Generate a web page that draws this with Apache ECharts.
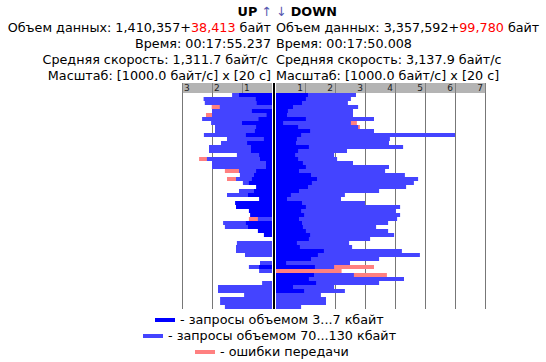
<!DOCTYPE html>
<html><head><meta charset="utf-8">
<script src="https://cdn.jsdelivr.net/npm/echarts@6/dist/echarts.min.js"></script>
<style>html,body{margin:0;padding:0;background:#fff}#c{width:546px;height:362px}</style>
</head><body><div id="c"></div>
<script>
// time slots (20 s each), top to bottom
const slots = ['1','2','3','4','5','6','7','8','9','10','11','12','13','14','15','16','17','18','19','20',
 '21','22','23','24','25','26','27','28','29','30','31','32','33','34','35','36','37','38','39','40',
 '41','42','43','44','45','46','47','48','49','50','51','52','53','54'];
// UP, in 1000 byte/s
const upSmall = [1.1,0.54,0.51,0,0.67,0.18,0.45,1.0,0.53,0.57,0.87,0.27,0.83,0.7,0.7,0.43,0.4,0.2,0.2,0.53,
 0.6,0.67,0.77,0.53,0.6,0.8,0.43,1.23,1.2,0.77,0.73,0,0.87,0.8,0.47,0.27,0,0,0,0,
 0,0,0,0.43,0,0,0,0,0,0,0,0,0,0];
const upLarge = [1.33,2.28,2.24,1.74,2.0,2.0,2.33,2.03,1.9,1.9,2.27,1.5,1.7,2.1,2.1,1.17,2.17,2.0,2.0,1.1,
 1.07,1.2,0.97,0,1.1,1.5,0,0,0,0,0,0.47,1.63,1.57,0,0,0,1.17,1.2,1.2,
 0.9,0,0.4,0.77,0.43,0,0,0.33,1.8,1.8,0.93,1.73,1.73,1.57];
const upErr = [0,0,0,2.01,0,2.2,0,0,0,0,0,0,0,0,0,0,2.43,0,0,1.57,
 0,1.5,0,0,0,0,0,0,0,0,0,0.77,0,0,0,0,0,0,0,0,
 0,0,0,0,0,0,0,0,0,0,0,0,0,0];
// DOWN, in 1000 byte/s
const downSmall = [1.1,1.03,0.9,0.6,0.43,0.4,1.03,0.27,0.77,1.17,0.87,0.73,0.7,1.13,0.77,0.67,0.77,0.93,1.03,0.8,
 1.2,1.4,1.23,1.1,0.8,0.53,0.4,0.9,1.03,0.87,0.97,0.8,0.9,0.93,1.03,1.17,1.13,0.73,0.83,1.63,
 1.43,1.2,0.37,1.33,0,1.3,1.13,1.37,0.6,0.97,0,0,0,0];
const downLarge = [2.7,2.53,2.43,2.77,2.6,2.6,3.3,2.53,2.77,3.3,6.0,3.83,3.8,4.27,2.4,1.97,2.07,2.6,3.8,3.67,
 4.33,4.77,4.63,4.37,3.47,2.33,2.2,3.0,4.17,4.03,4.17,4.07,3.77,3.37,3.77,3.97,3.17,2.47,2.57,4.23,
 4.83,3.47,2.5,1.97,0,2.63,4.3,3.47,1.97,2.33,1.53,1.7,1.7,0.87];
const downErr = [0,0,0,0,0,0,0,2.73,2.83,0,0,0,0,0,0,0,0,0,0,0,
 0,0,0,0,0,0,0,0,0,0,0,0,0,0,0,0,0,0,0,0,
 0,0,0,3.3,2.22,3.73,0,0,0,0,0,0,0,0];
const upTicks = [1,2,3];
const downTicks = [1,2,3,4,5,6,7];

const FONT = '"DejaVu Sans", Verdana, sans-serif';
const FS = '12.75px ';
const C_SMALL = '#0000ff', C_LARGE = '#4444ff', C_ERR = '#ff8080';

const chart = echarts.init(document.getElementById('c'), null, {renderer:'svg'});

function xAx(gi, max, ticks, inverse, align) {
  return {
    gridIndex: gi, type: 'value', min: 0, max: max, interval: 1, inverse: inverse, position: 'top',
    axisLine: {show: false},
    axisTick: {show: true, length: 10, customValues: ticks, lineStyle: {color: '#808080', width: 1}},
    axisLabel: {show: true, customValues: ticks, margin: 1, fontSize: 9, fontFamily: FONT, color: '#222',
      align: align, padding: align === 'left' ? [0,0,0,2] : [0,2,0,0]},
    splitLine: {show: true, showMinLine: false, lineStyle: {color: '#777', width: 1}}
  };
}
function yAx(gi) {
  return {gridIndex: gi, type: 'category', data: slots, inverse: true,
    axisLine: {show: false}, axisTick: {show: false}, axisLabel: {show: false}, splitLine: {show: false}};
}
function bar(name, data, color, gi) {
  return {type: 'bar', name: name, data: data, xAxisIndex: gi, yAxisIndex: gi,
    barGap: '-100%', barCategoryGap: '0%', itemStyle: {color: color}, silent: true};
}
function txt(x, y, align, text, rich, bold) {
  return {type: 'text', x: x, y: y, z: 50, style: {text: text, align: align, verticalAlign: 'middle',
    font: (bold ? 'bold ' : '') + FS + FONT, fill: '#000', rich: rich}};
}
const richR = {
  n: {fill: '#000', color: '#000', font: FS + FONT},
  r: {fill: '#ff0000', color: '#ff0000', font: FS + FONT},
  b: {fill: '#000', color: '#000', font: 'bold ' + FS + FONT},
  a: {fill: '#5a5ab0', color: '#5a5ab0', font: FS + FONT}
};

chart.setOption({
  animation: false,
  backgroundColor: '#fff',
  grid: [
    {left: 182, width: 90, top: 93, height: 216, containLabel: false},
    {left: 275, width: 210, top: 93, height: 216, containLabel: false}
  ],
  xAxis: [xAx(0, 3, upTicks, true, 'left'), xAx(1, 7, downTicks, false, 'right')],
  yAxis: [yAx(0), yAx(1)],
  series: [
    bar('ошибки UP', upErr, C_ERR, 0),
    bar('70...130 UP', upLarge, C_LARGE, 0),
    bar('3...7 UP', upSmall, C_SMALL, 0),
    bar('ошибки DOWN', downErr, C_ERR, 1),
    bar('70...130 DOWN', downLarge, C_LARGE, 1),
    bar('3...7 DOWN', downSmall, C_SMALL, 1)
  ],
  graphic: [
    {type: 'rect', z: -10, shape: {x: 182, y: 83, width: 90, height: 10}, style: {fill: '#b4b4b4'}},
    {type: 'rect', z: -10, shape: {x: 276, y: 83, width: 210, height: 10}, style: {fill: '#b4b4b4'}},
    {type: 'rect', z: 100, shape: {x: 275, y: 93, width: 1, height: 216}, style: {fill: '#fff'}},
    {type: 'rect', z: 100, shape: {x: 273, y: 83, width: 2, height: 226}, style: {fill: '#000'}},
    txt(272, 11, 'right', '{b|UP} {a|↑}', richR),
    txt(271, 27, 'right', '{n|Объем данных: 1,410,357+}{r|38,413}{n| байт}', richR),
    txt(271, 43, 'right', 'Время: 00:17:55.237'),
    txt(268, 59, 'right', 'Средняя скорость: 1,311.7 байт/с'),
    txt(271, 75, 'right', 'Масштаб: [1000.0 байт/с] x [20 с]'),
    txt(276, 11, 'left', '{a|↓} {b|DOWN}', richR),
    txt(276, 27, 'left', '{n|Объем данных: 3,357,592+}{r|99,780}{n| байт}', richR),
    txt(276, 43, 'left', 'Время: 00:17:50.008'),
    txt(276, 59, 'left', 'Средняя скорость: 3,137.9 байт/с'),
    txt(276, 75, 'left', 'Масштаб: [1000.0 байт/с] x [20 с]'),
    {type: 'rect', shape: {x: 155, y: 318, width: 20, height: 4}, style: {fill: C_SMALL}},
    txt(180, 319, 'left', '- запросы объемом 3...7 кбайт'),
    {type: 'rect', shape: {x: 143, y: 334, width: 20, height: 4}, style: {fill: C_LARGE}},
    txt(168, 335, 'left', '- запросы объемом 70...130 кбайт'),
    {type: 'rect', shape: {x: 195, y: 350, width: 20, height: 4}, style: {fill: C_ERR}},
    txt(220, 351, 'left', '- ошибки передачи')
  ]
});
</script></body></html>
